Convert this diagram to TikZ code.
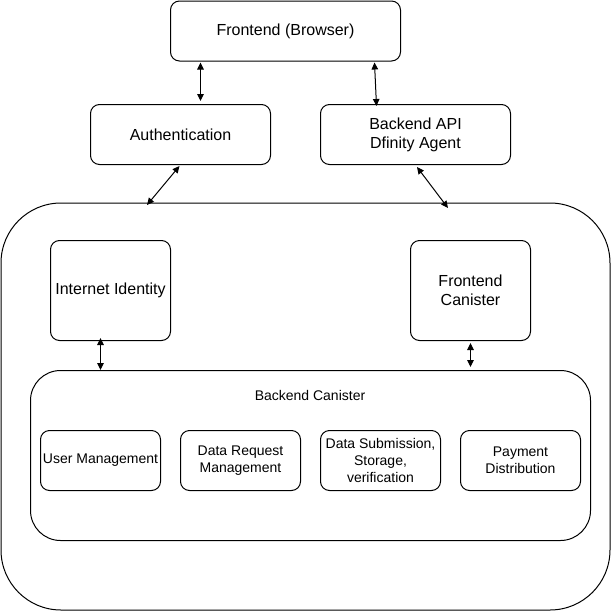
\documentclass[tikz,border=0pt]{standalone}
\usepackage{fontspec}
\setmainfont{Liberation Sans}
\usetikzlibrary{arrows.meta}
\begin{document}
\begin{tikzpicture}[x=1pt,y=-1pt,
  box/.style={draw=black,line width=1pt,rounded corners=9pt,fill=white,align=center,inner sep=0pt,text=black},
  big/.style={font=\fontsize{16}{19}\selectfont},
  small/.style={font=\fontsize{14}{17}\selectfont},
  link/.style={line width=1pt,{Triangle[length=7pt,width=6.5pt]}-{Triangle[length=7pt,width=6.5pt]}}
]
\useasboundingbox (0,0) rectangle (611,611);
\fill[white] (0,0) rectangle (611,611);
% containers
\draw[line width=1pt,rounded corners=60pt] (1,203) rectangle (610,610);
\node[box,big,minimum width=230pt,minimum height=60pt,anchor=north west] (fe) at (170,0.5) {Frontend (Browser)};
\node[box,big,minimum width=180pt,minimum height=60pt,anchor=north west] (auth) at (90,104) {Authentication};
\node[box,big,minimum width=190pt,minimum height=60pt,anchor=north west] (api) at (320,104) {Backend API\\Dfinity Agent};
\node[box,big,minimum width=120pt,minimum height=100pt,anchor=north west] (ii) at (50,240) {Internet Identity};
\node[box,big,minimum width=120pt,minimum height=100pt,anchor=north west] (fc) at (410,240) {Frontend\\Canister};
\node[box,rounded corners=30pt,minimum width=560pt,minimum height=170pt,anchor=north west] (bc) at (30,370) {};
\node[small,anchor=center] (bclabel) at (310,395) {Backend Canister};
\node[box,small,minimum width=120pt,minimum height=60pt,anchor=north west] (um) at (40,430) {User Management};
\node[box,small,minimum width=120pt,minimum height=60pt,anchor=north west] (dr) at (180,430) {Data Request\\Management};
\node[box,small,minimum width=120pt,minimum height=60pt,anchor=north west] (ds) at (320,430) {Data Submission,\\Storage,\\verification};
\node[box,small,minimum width=120pt,minimum height=60pt,anchor=north west] (pd) at (460,430) {Payment\\Distribution};
% connector endpoints
\coordinate (c1) at (147,205);
\coordinate (c2) at (448,208);
\draw[link] ([xshift=-85pt,yshift=-1pt]fe.south) -- ([xshift=20pt,yshift=3pt]auth.north);
\draw[link] ([xshift=89pt,yshift=-1pt]fe.south) -- ([xshift=-39pt,yshift=-2pt]api.north);
\draw[link] ([xshift=-1pt,yshift=-1pt]auth.south) -- (c1);
\draw[link] ([xshift=97pt,yshift=-2pt]api.south west) -- (c2);
\draw[link] ([xshift=-10pt,yshift=3pt]ii.south) -- ([xshift=-210pt,yshift=0pt]bc.north);
\draw[link] ([yshift=-2pt]fc.south) -- ([xshift=160pt,yshift=3pt]bc.north);
\end{tikzpicture}
\end{document}
